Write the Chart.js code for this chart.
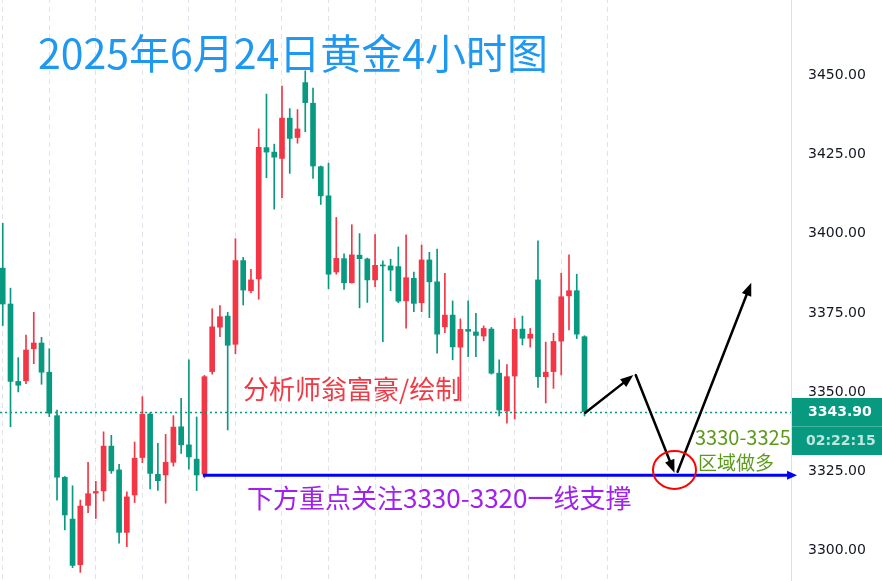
<!DOCTYPE html>
<html>
<head>
<meta charset="utf-8">
<script src="https://cdn.jsdelivr.net/npm/chart.js@4.4.1/dist/chart.umd.min.js"></script>
<style>
  html, body { margin: 0; padding: 0; background: #fff; width: 882px; height: 581px; overflow: hidden; }
  #wrap { position: absolute; left: 0; top: -20px; width: 882px; height: 601px; }
  .t { position: absolute; white-space: nowrap; line-height: 1; font-family: "Noto Sans CJK SC", sans-serif; }
  #title { left: 38px; top: 31px; font-size: 41px; color: #1e98f0; }
  #author { left: 243px; top: 375px; font-size: 26px; color: #f03a45; }
  #support { left: 247px; top: 484px; font-size: 26px; color: #a020f0; }
  #zone1 { left: 695px; top: 427px; font-size: 20px; color: #5c9a1c; }
  #zone2 { left: 698px; top: 452px; font-size: 19px; color: #5c9a1c; }
</style>
</head>
<body>
<div id="wrap"><canvas id="kline" width="882" height="601"></canvas></div>
<div class="t" id="title">2025年6月24日黄金4小时图</div>
<div class="t" id="author">分析师翁富豪/绘制</div>
<div class="t" id="support">下方重点关注3330-3320一线支撑</div>
<div class="t" id="zone1">3330-3325</div>
<div class="t" id="zone2">区域做多</div>
<script>
(function() {
  'use strict';

  // =============================================
  // 4小时K线数据 (开/高/低/收)
  // =============================================
  const opens = [
    3389.1, 3377.8, 3353.4, 3353.6, 3363.7, 3365.5, 3356.3, 3342.6, 3323.2, 3310.0,
    3295.6, 3314.3, 3318.2, 3318.9, 3333.0, 3325.5, 3305.8, 3317.6, 3329.4, 3343.1,
    3324.1, 3323.9, 3327.9, 3339.1, 3333.4, 3328.9, 3324.2, 3356.5, 3370.5, 3374.0,
    3365.1, 3391.5, 3382.0, 3385.7, 3427.1, 3425.7, 3423.7, 3436.4, 3430.3, 3447.6,
    3441.1, 3421.1, 3411.9, 3387.9, 3392.1, 3384.5, 3393.2, 3392.0, 3385.4, 3390.1,
    3389.8, 3389.6, 3378.8, 3385.9, 3378.2, 3391.7, 3384.8, 3370.6, 3374.3, 3364.2,
    3369.8, 3369.0, 3367.7, 3369.9, 3356.0, 3344.1, 3355.1, 3369.9, 3367.0, 3385.4,
    3354.9, 3356.5, 3366.1, 3380.4, 3382.0, 3367.5
  ];
  const highs = [
    3403.3, 3382.8, 3360.9, 3368.0, 3375.2, 3367.3, 3363.7, 3344.4, 3323.4, 3320.5,
    3316.0, 3327.9, 3321.9, 3337.5, 3336.4, 3327.3, 3318.6, 3334.3, 3348.6, 3343.5,
    3333.9, 3336.7, 3342.6, 3348.1, 3360.2, 3342.2, 3355.3, 3376.3, 3377.3, 3375.2,
    3398.4, 3392.5, 3388.7, 3433.0, 3444.0, 3428.2, 3446.5, 3439.4, 3439.1, 3451.3,
    3445.9, 3421.3, 3422.2, 3405.1, 3393.6, 3402.8, 3400.0, 3392.3, 3399.7, 3391.4,
    3391.9, 3395.8, 3399.6, 3387.9, 3396.4, 3394.1, 3395.1, 3387.5, 3378.8, 3373.1,
    3378.8, 3374.9, 3370.9, 3370.4, 3360.2, 3358.7, 3373.3, 3374.0, 3370.1, 3397.7,
    3365.8, 3368.6, 3387.5, 3393.3, 3387.2, 3367.8
  ];
  const lows = [
    3371.0, 3339.1, 3350.1, 3352.7, 3359.0, 3352.5, 3342.3, 3316.0, 3306.6, 3294.7,
    3293.2, 3312.0, 3310.2, 3315.7, 3324.4, 3302.4, 3301.3, 3315.2, 3327.8, 3319.5,
    3319.0, 3315.0, 3326.7, 3330.7, 3325.7, 3319.0, 3323.0, 3355.7, 3367.5, 3338.1,
    3362.1, 3377.5, 3381.4, 3379.3, 3417.6, 3407.7, 3411.3, 3419.0, 3428.5, 3432.1,
    3417.4, 3409.2, 3382.6, 3387.2, 3382.4, 3384.4, 3376.6, 3378.3, 3383.3, 3365.9,
    3382.0, 3378.2, 3370.2, 3375.4, 3375.4, 3373.5, 3362.3, 3368.8, 3360.2, 3347.3,
    3361.2, 3361.2, 3366.2, 3355.7, 3342.5, 3340.2, 3341.5, 3364.9, 3364.2, 3351.5,
    3346.6, 3351.2, 3355.4, 3369.6, 3366.9, 3342.5
  ];
  const closes = [
    3377.8, 3353.4, 3352.2, 3363.3, 3365.5, 3356.3, 3343.4, 3323.2, 3311.3, 3295.4,
    3314.1, 3318.0, 3318.7, 3333.0, 3325.2, 3305.8, 3317.0, 3329.2, 3343.0, 3324.4,
    3322.1, 3327.9, 3339.0, 3333.4, 3329.6, 3323.9, 3354.9, 3370.6, 3373.8, 3364.8,
    3391.5, 3382.2, 3385.4, 3427.2, 3425.7, 3424.1, 3436.4, 3430.0, 3433.0, 3441.3,
    3421.3, 3411.9, 3387.2, 3392.2, 3384.5, 3393.3, 3392.1, 3385.4, 3390.0, 3389.8,
    3388.5, 3378.7, 3386.1, 3378.0, 3391.7, 3384.8, 3368.3, 3374.3, 3364.3, 3369.8,
    3369.2, 3367.9, 3370.1, 3356.0, 3344.4, 3354.9, 3369.8, 3367.0, 3368.3, 3354.9,
    3356.3, 3366.0, 3380.1, 3382.0, 3368.3, 3343.9
  ];

  // 坐标轴
  const priceTicks = [3300, 3325, 3350, 3375, 3400, 3425, 3450, 3475];
  const dayStarts = [3, 9, 15, 21, 27, 33, 39, 45, 51, 57, 63, 69, 75];
  const X_MIN = -0.353, X_MAX = 101.62;
  const Y_MIN = 3290.48, Y_MAX = 3479.95;

  // 当前价 / 倒计时
  const lastPrice = 3343.90;
  const countdown = '02:22:15';

  // 支撑线 (起点, 终点 K线序号)
  const supportLevel = 3323.8;
  const supportFrom = 25.8, supportTo = 102.4;

  // 走势预判箭头 [x序号, 价格]
  const arrowPaths = [
    [[75.1, 3343.5], [81.3, 3355.4]],
    [[81.6, 3355.4], [86.6, 3324.6]],
    [[87.0, 3324.9], [96.5, 3384.5]]
  ];
  const circleAt = [86.6, 3325.5];

  const GREEN = '#089981';
  const RED = '#f23645';

  const idx = opens.map((_, i) => i);
  const colors = idx.map(i => closes[i] >= opens[i] ? RED : GREEN);

  function drawArrow(ctx, x1, y1, x2, y2, len, half) {
    const a = Math.atan2(y2 - y1, x2 - x1);
    const bx = x2 - Math.cos(a) * len, by = y2 - Math.sin(a) * len;
    ctx.beginPath();
    ctx.moveTo(x1, y1);
    ctx.lineTo(bx + Math.cos(a) * 2, by + Math.sin(a) * 2);
    ctx.stroke();
    ctx.beginPath();
    ctx.moveTo(x2, y2);
    ctx.lineTo(bx + Math.sin(a) * half, by - Math.cos(a) * half);
    ctx.lineTo(bx - Math.sin(a) * half, by + Math.cos(a) * half);
    ctx.closePath();
    ctx.fill();
  }

  const overlay = {
    id: 'overlay',
    afterDatasetsDraw(chart) {
      const { ctx, chartArea } = chart;
      const x = chart.scales.x, y = chart.scales.y;
      const px = v => x.getPixelForValue(v), py = v => y.getPixelForValue(v);
      ctx.save();

      // 现价虚线
      ctx.strokeStyle = GREEN;
      ctx.lineWidth = 1.5;
      ctx.setLineDash([2, 3]);
      ctx.beginPath();
      ctx.moveTo(chartArea.left, Math.round(py(lastPrice)) + 0.5);
      ctx.lineTo(chartArea.right, Math.round(py(lastPrice)) + 0.5);
      ctx.stroke();
      ctx.setLineDash([]);

      // 蓝色支撑线
      ctx.strokeStyle = '#0000ff';
      ctx.fillStyle = '#0000ff';
      ctx.lineWidth = 3;
      drawArrow(ctx, px(supportFrom), py(supportLevel), px(supportTo), py(supportLevel), 10, 4.5);

      // 黑色箭头
      ctx.strokeStyle = '#000';
      ctx.fillStyle = '#000';
      ctx.lineWidth = 2.5;
      ctx.lineCap = 'round';
      arrowPaths.forEach(function(p) {
        drawArrow(ctx, px(p[0][0]), py(p[0][1]), px(p[1][0]), py(p[1][1]), 13, 5);
      });

      // 红圈
      ctx.strokeStyle = '#ff0000';
      ctx.lineWidth = 2;
      ctx.beginPath();
      ctx.ellipse(px(circleAt[0]), py(circleAt[1]), 21.5, 19, 0, 0, Math.PI * 2);
      ctx.stroke();
      ctx.restore();
    },
    afterDraw(chart) {
      const { ctx, chartArea } = chart;
      const yy = Math.round(chart.scales.y.getPixelForValue(lastPrice));
      const left = Math.round(chartArea.right) + 1;
      const w = chart.width - left;
      ctx.save();
      ctx.fillStyle = GREEN;
      ctx.fillRect(left, yy - 14, w, 57);
      ctx.fillStyle = 'rgba(255,255,255,0.25)';
      ctx.fillRect(left, yy + 14, w, 1);
      ctx.font = 'bold 14px "DejaVu Sans"';
      ctx.textBaseline = 'middle';
      ctx.textAlign = 'left';
      ctx.fillStyle = '#ffffff';
      ctx.fillText(lastPrice.toFixed(2), 808, yy);
      ctx.fillStyle = 'rgba(255,255,255,0.75)';
      ctx.fillText(countdown, 806, yy + 29);
      ctx.restore();
    }
  };

  const ctx = document.getElementById('kline');

  new Chart(ctx, {
    type: 'bar',
    data: {
      datasets: [
        {
          label: 'body',
          data: idx.map(i => ({ x: i, y: [opens[i], closes[i]] })),
          backgroundColor: colors,
          barThickness: 5,
          minBarLength: 1,
          grouped: false,
          borderWidth: 0
        },
        {
          label: 'wick',
          data: idx.map(i => ({ x: i, y: [lows[i], highs[i]] })),
          backgroundColor: colors,
          barThickness: 1,
          grouped: false,
          borderWidth: 0
        }
      ]
    },
    options: {
      responsive: false,
      animation: false,
      devicePixelRatio: 1,
      layout: { padding: 0 },
      plugins: {
        legend: { display: false },
        tooltip: { enabled: false }
      },
      scales: {
        x: {
          type: 'linear',
          min: X_MIN,
          max: X_MAX,
          offset: false,
          ticks: { display: false },
          grid: { color: '#e0e3eb', drawTicks: false, lineWidth: 1 },
          border: { display: false, dash: [5, 4] },
          afterBuildTicks: function(s) { s.ticks = dayStarts.map(v => ({ value: v })); },
          afterFit: function(s) { s.height = 0; s.paddingLeft = 0; s.paddingRight = 0; }
        },
        y: {
          position: 'right',
          min: Y_MIN,
          max: Y_MAX,
          grid: { display: false, drawTicks: false },
          border: { display: true, color: '#dcdcee' },
          ticks: {
            color: '#131722',
            padding: 17,
            font: { family: 'DejaVu Sans', size: 14 },
            callback: function(v) { return v.toFixed(2); }
          },
          afterBuildTicks: function(s) { s.ticks = priceTicks.map(v => ({ value: v })); },
          afterFit: function(s) { s.width = 91; s.paddingTop = 0; s.paddingBottom = 0; }
        }
      }
    },
    plugins: [overlay]
  });
})();
</script>
</body>
</html>
